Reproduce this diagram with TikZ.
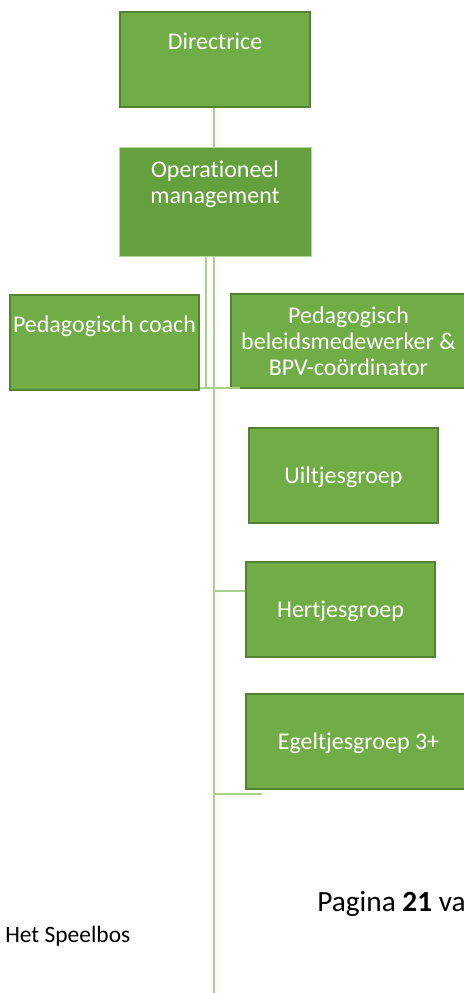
\documentclass[tikz,border=0pt]{standalone}
\usepackage{fontspec}
\setmainfont[Ligatures=NoCommon]{Carlito}
\usepackage{xcolor}
\definecolor{box-green}{HTML}{70AD47}
\definecolor{box-edge}{HTML}{548235}
\definecolor{mgmt-green}{HTML}{64A03E}
\definecolor{mgmt-edge}{HTML}{B5D69F}
\definecolor{line-green}{HTML}{A9D18E}
\tikzset{
    org-box/.style = {draw=box-edge, fill=box-green, line width=1pt, rectangle, text=white, font=\fontsize{18}{19.5}\selectfont, align=center, inner sep=0pt, minimum width=141.75pt, minimum height=71.25pt},
    org-box-top/.style = {org-box, text height=13pt, text depth=27.8pt},
    org-box-mid/.style = {org-box, text height=14.5pt, text depth=2.8pt},
    org-line/.style = {draw=line-green, line width=1.9pt},
    footer-text/.style = {anchor=base west, inner sep=0pt, text=black},
}

\begin{document}
\begin{tikzpicture}[x=0.75pt, y=-0.75pt]
\useasboundingbox (0,0) rectangle (464,993);
\node[org-box-top, minimum width=142.5pt] (dir) at (215,59.5) {Directrice};
\node[org-box, fill=mgmt-green, draw=mgmt-edge, line width=0.5pt, text height=32.5pt, text depth=29.8pt, minimum width=144pt, minimum height=81.75pt] (om) at (215,201.5) {Operationeel\\management};
\node[org-box-top] (coach) at (104.5,342.5) {Pedagogisch coach};
\node[org-box, minimum width=176.25pt, minimum height=70.5pt] (beleid) at (348.5,341) {Pedagogisch\\beleidsmedewerker \&\\BPV-coördinator};
\node[org-box-mid] (uil) at (343.5,475.5) {Uiltjesgroep};
\node[org-box-mid] (hert) at (340.5,609.5) {Hertjesgroep};
\node[org-box-mid, minimum width=168.75pt] (egel) at (358.5,741.5) {Egeltjesgroep 3+};

\coordinate (trunk-end) at (214,993);
\coordinate (coach-bend) at (206,388);
\coordinate (coach-join) at (240,388);
\coordinate (hert-join) at (246,591);
\coordinate (egel-join) at (262,794);

\draw[org-line] (dir.south -| trunk-end) -- (om.north -| trunk-end);
\draw[org-line] (om.south -| trunk-end) -- (trunk-end);
\draw[org-line] (om.south -| coach-bend) -- (coach-bend);
\draw[org-line] (coach.east |- coach-join) -- (coach-join);
\draw[org-line] (hert-join -| trunk-end) -- (hert.west |- hert-join);
\draw[org-line] (egel-join -| trunk-end) -- (egel-join);

\node[footer-text, font=\fontsize{17.6}{20}\selectfont] (speelbos) at (5,942.7) {Het Speelbos};
\node[footer-text, font=\fontsize{22}{26}\selectfont] (pagina) at (317,911.7) {Pagina \textbf{21} va};
\end{tikzpicture}
\end{document}
